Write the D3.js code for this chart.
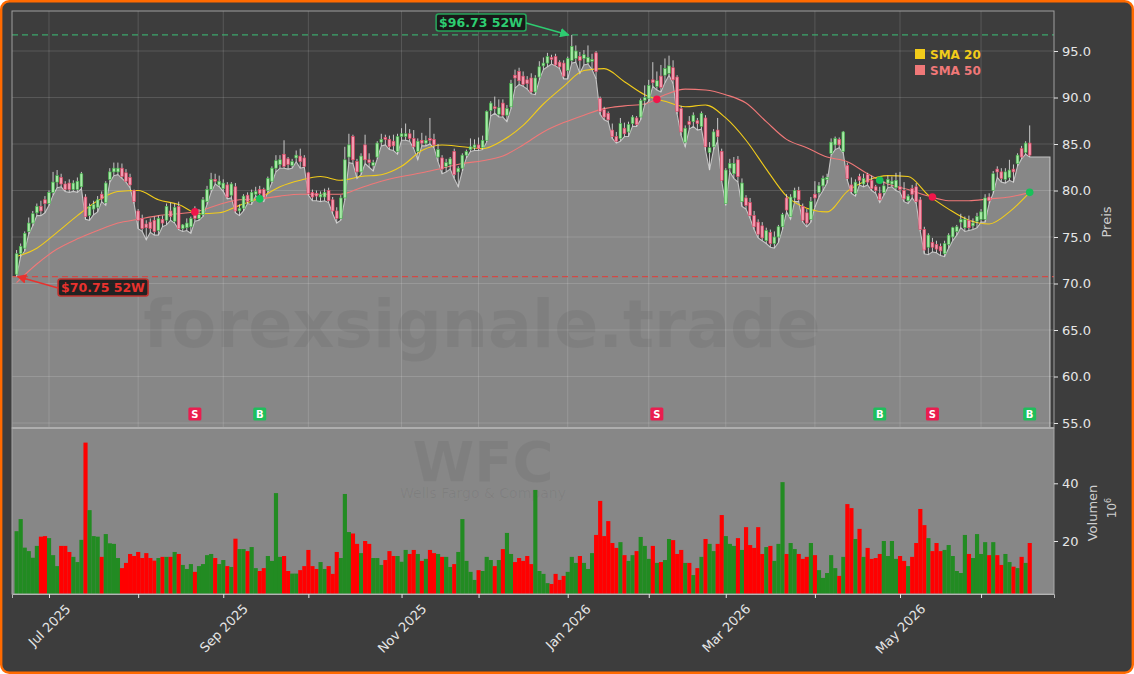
<!DOCTYPE html>
<html>
<head>
<meta charset="utf-8">
<script src="https://cdn.jsdelivr.net/npm/d3@7"></script>
<style>
  body { margin: 0; background: #fff; }
  svg { display: block; }
  text { font-family: "DejaVu Sans", sans-serif; }
</style>
</head>
<body>
<svg id="chart" width="1134" height="674"></svg>
<script>
// Daily WFC candles, index 0 = first trading day shown (Jun 18 2025)
var opens = [71.0,73.2,73.8,75.6,76.5,77.6,78.3,79.0,78.6,79.8,80.9,81.4,80.7,80.8,80.1,80.1,80.4,79.3,77.3,78.0,
  78.2,79.6,78.7,81.2,82.0,82.0,82.4,81.9,81.4,80.0,77.8,77.0,76.4,76.6,76.8,75.7,76.9,76.8,77.8,76.7,
  78.3,75.9,76.0,76.1,77.8,77.0,77.4,78.8,80.1,81.2,80.6,80.2,80.6,79.5,80.4,77.8,78.1,79.5,78.8,79.6,
  80.1,80.1,80.0,81.0,82.4,82.8,83.9,83.4,82.7,83.5,83.7,83.5,81.9,79.8,79.7,79.3,79.3,80.0,79.0,77.8,
  77.0,79.2,83.6,85.8,83.1,82.0,84.9,83.3,82.7,83.6,85.2,85.7,85.5,85.3,84.2,85.8,85.8,86.1,85.6,84.2,
  85.4,85.1,85.6,85.5,83.6,83.5,82.6,82.8,84.2,82.0,82.4,83.8,84.4,84.6,84.9,84.6,85.4,88.6,89.0,88.2,
  89.4,88.1,89.0,92.4,92.8,92.3,91.9,92.1,90.6,92.2,93.4,93.7,94.3,94.4,93.8,93.7,92.9,94.0,94.2,94.4,
  94.2,93.8,93.9,94.8,89.9,88.7,88.3,86.5,85.8,85.6,86.7,86.3,87.2,87.8,87.9,89.7,89.9,91.9,91.2,92.3,
  92.4,92.6,93.2,92.2,88.8,85.2,87.4,87.4,87.5,86.9,87.8,84.1,84.7,86.5,84.2,78.6,82.4,81.8,83.3,78.8,
  79.2,78.7,77.3,76.6,76.2,74.6,75.5,74.3,75.0,76.1,79.2,77.2,79.2,80.0,78.3,77.6,76.9,79.6,79.8,80.5,
  81.2,84.0,84.9,85.5,84.2,82.7,80.6,79.7,81.5,80.7,81.7,81.1,80.4,79.7,79.8,80.8,80.7,80.3,80.4,80.0,
  78.9,80.2,80.4,79.0,75.8,73.9,74.4,74.2,74.0,73.2,74.2,75.0,75.6,76.6,76.0,76.8,76.2,76.7,76.9,76.9,
  79.3,80.0,82.3,82.0,81.2,81.4,82.3,82.9,84.5,84.1,85.1];
var highs = [73.6,74.3,75.6,77.1,77.8,78.6,78.9,79.4,80.0,82.0,82.2,81.8,81.0,81.2,81.1,81.4,82.0,79.6,78.6,78.9,
  79.4,79.9,81.0,82.4,83.0,83.0,82.9,82.3,81.8,80.1,78.0,77.4,76.8,77.0,77.2,77.3,77.3,78.6,78.7,78.6,
  78.8,76.4,77.0,77.2,78.3,78.0,79.3,80.5,81.9,81.8,81.6,81.2,80.9,80.9,80.8,78.5,79.6,79.8,80.1,80.4,
  80.5,80.3,81.5,82.6,83.8,83.8,85.4,83.6,83.4,84.3,84.5,83.8,82.0,80.1,80.0,79.9,80.2,80.3,79.3,78.2,
  79.5,84.7,86.1,86.0,83.4,84.0,86.0,84.0,83.3,85.3,86.1,86.0,85.9,86.0,86.1,86.7,87.2,86.6,86.5,85.6,
  86.2,85.9,87.8,86.1,85.0,83.8,83.4,83.6,84.5,82.6,84.0,84.4,85.6,85.5,85.7,85.9,88.6,89.6,90.1,89.8,
  89.8,89.2,91.9,93.0,93.2,92.8,92.3,92.6,92.4,93.9,94.3,94.8,94.6,94.7,94.0,94.0,94.4,96.73,95.6,94.9,
  95.1,95.6,94.7,95.0,90.1,89.0,88.5,87.2,86.3,87.8,87.3,87.4,88.1,88.0,89.9,91.3,91.9,93.8,92.8,93.5,
  94.2,94.5,94.0,92.4,89.1,87.0,88.0,88.4,87.8,88.5,88.1,85.2,86.6,87.8,84.5,82.4,83.4,83.6,83.7,81.3,
  79.5,79.2,77.8,76.9,76.6,76.0,75.8,75.6,76.3,77.6,79.6,79.6,80.3,80.4,78.6,78.0,79.3,81.0,80.9,81.6,
  81.8,85.6,85.8,85.7,86.4,83.0,81.4,81.2,81.8,81.8,81.9,81.6,80.6,80.4,81.0,81.6,81.5,81.9,82.0,80.9,
  79.6,80.6,80.8,79.3,76.1,75.4,74.9,74.6,74.3,74.6,75.4,76.1,76.3,77.5,77.2,77.3,77.0,77.6,78.0,79.6,
  79.7,82.1,82.6,82.4,82.4,83.3,82.8,84.0,84.8,85.3,87.0];
var lows = [70.75,72.9,73.5,75.3,76.2,77.3,77.3,77.6,78.4,79.5,80.3,80.4,79.9,79.8,79.9,79.8,80.2,76.9,76.8,77.4,
  77.7,78.8,78.4,80.9,81.6,81.7,81.3,80.9,80.3,78.6,75.9,75.6,74.7,75.5,75.2,75.2,76.1,76.3,76.8,76.5,
  75.8,75.6,75.7,75.4,76.7,76.8,77.2,78.5,79.8,80.7,80.4,79.9,79.1,79.2,77.6,77.3,77.8,78.6,78.5,79.4,
  79.2,78.8,79.8,80.8,82.0,82.4,82.4,82.3,82.4,83.1,82.4,82.5,79.5,78.9,78.9,78.8,78.9,78.7,77.5,76.5,
  76.8,79.0,83.0,82.9,81.3,81.7,82.9,82.5,82.1,83.4,84.8,84.9,84.4,84.3,83.9,85.4,85.4,85.3,84.5,83.3,
  84.8,84.8,85.0,84.6,83.1,81.8,82.0,82.3,81.3,80.4,82.1,83.5,84.2,84.3,84.3,84.4,85.2,88.0,88.3,87.9,
  87.9,87.4,88.8,91.0,91.4,91.2,90.9,90.4,90.3,91.9,93.0,93.3,93.6,93.4,93.1,92.0,92.0,93.7,93.8,92.6,
  93.5,93.6,93.0,92.0,88.2,87.6,87.4,85.6,85.1,85.3,85.8,85.8,86.9,86.9,87.6,89.2,89.6,91.2,90.8,90.6,
  91.6,92.4,91.5,88.2,85.9,84.7,86.6,86.9,86.5,86.6,84.3,82.2,84.4,85.3,81.0,78.4,82.0,81.3,80.9,78.3,
  78.0,77.0,75.8,74.9,74.6,74.3,73.9,73.8,74.4,75.8,77.7,76.9,78.8,78.8,76.6,76.1,76.6,78.2,79.3,80.0,
  80.8,83.8,84.4,84.6,84.0,81.1,79.7,79.4,80.6,80.4,80.6,80.0,79.7,78.7,79.5,80.3,80.4,80.0,79.8,78.8,
  78.6,79.2,78.6,75.6,73.2,73.1,73.4,73.3,73.0,72.9,73.8,74.6,75.2,76.0,75.6,75.7,75.8,76.0,76.6,76.6,
  78.6,79.7,81.4,80.9,80.8,81.1,80.9,82.6,83.4,83.9,83.6];
var closes = [73.2,74.0,75.4,76.5,77.5,78.3,77.8,78.6,79.8,80.9,81.6,80.7,80.1,80.1,80.8,81.0,81.8,77.2,78.3,78.5,
  79.0,79.1,80.8,82.0,82.4,82.4,81.5,81.0,80.6,78.8,76.8,75.9,76.0,75.9,75.6,77.0,76.5,78.3,77.2,78.2,
  75.9,76.3,76.5,77.0,77.0,77.4,79.0,80.1,81.2,81.0,81.0,80.8,79.3,80.7,77.8,78.1,79.4,78.8,79.8,79.9,
  79.7,79.2,81.3,82.4,83.2,83.3,82.6,82.8,83.1,83.8,83.1,82.6,79.7,79.3,79.4,79.6,79.8,78.9,77.8,77.0,
  79.2,83.3,84.9,83.3,82.0,83.7,83.3,83.0,83.0,85.1,85.5,85.5,84.7,84.8,85.8,86.1,86.1,85.6,84.7,85.3,
  85.1,85.4,85.4,84.9,84.4,82.3,83.0,83.4,81.7,82.4,83.8,84.2,84.7,84.9,84.5,85.4,88.5,89.4,88.8,88.9,
  88.1,88.8,91.5,92.1,91.8,91.4,91.5,90.6,92.1,93.3,93.7,94.4,94.1,93.5,93.3,92.3,94.2,95.5,95.0,94.0,
  94.6,94.3,94.1,92.8,88.5,87.9,87.6,85.8,85.3,87.2,86.1,87.1,87.9,87.1,89.7,90.0,91.3,91.6,91.8,91.1,
  93.1,93.4,91.9,88.5,86.3,86.7,87.1,88.1,87.2,88.3,84.7,84.6,86.3,85.8,81.1,82.2,82.9,82.9,81.5,80.8,
  78.4,77.3,76.1,75.3,74.9,75.7,74.3,75.0,76.1,77.4,77.9,79.3,80.0,79.0,76.8,76.5,78.8,79.2,80.5,81.3,
  81.4,85.2,85.6,84.9,86.3,81.3,79.9,80.9,81.1,81.3,80.9,80.2,80.0,79.0,80.5,81.2,81.0,81.1,80.1,79.1,
  79.4,79.6,78.8,75.8,73.6,75.2,73.9,73.7,73.5,74.3,75.2,76.0,76.1,76.9,76.9,76.0,76.5,77.2,77.7,79.2,
  78.9,81.8,82.0,81.3,82.0,82.2,82.0,83.8,83.6,85.1,83.8];
// Volume in millions
var volume = [23.4,27.6,17.7,16.5,14.2,18.3,21.5,21.7,21.0,15.1,11.3,18.3,18.3,16.2,14.5,12.7,20.4,54.1,30.7,21.7,
  21.5,14.5,22.4,19.2,19.0,14.1,10.6,12.4,15.5,14.8,16.2,14.1,15.8,14.1,13.2,14.1,14.5,14.5,14.5,16.2,
  15.5,11.7,10.3,12.0,9.3,11.3,12.0,15.1,15.5,14.1,12.0,13.4,11.3,11.0,20.8,17.2,17.2,16.5,17.9,10.6,
  9.6,10.6,14.8,13.1,36.6,14.5,14.8,9.6,8.7,8.7,9.9,11.3,16.9,11.3,10.3,12.7,10.3,11.3,8.6,16.2,
  14.1,36.3,23.1,22.6,19.0,15.8,20.0,19.0,14.1,14.1,11.7,13.4,16.5,14.8,14.8,12.8,16.9,15.5,16.9,15.5,
  13.1,13.8,16.9,15.8,15.5,14.5,14.5,11.0,12.0,16.2,27.6,13.1,9.3,6.5,9.9,9.6,14.5,13.4,11.3,13.4,
  17.2,22.8,15.5,12.7,14.1,13.1,14.8,12.0,37.7,9.6,8.6,5.4,5.1,8.6,6.5,7.9,9.3,14.5,12.4,14.8,
  12.4,10.3,15.8,22.1,33.9,21.7,26.9,19.3,17.6,19.6,15.1,13.1,15.1,16.5,21.4,18.3,13.8,18.3,12.4,12.7,
  13.4,20.7,20.3,15.5,16.9,12.4,12.4,8.2,10.6,14.5,20.7,19.0,16.5,19.0,29.0,21.7,19.0,18.3,21.0,16.9,
  24.8,18.6,17.6,24.8,15.5,17.9,18.3,13.1,19.0,40.4,15.5,19.3,17.2,15.5,13.8,14.5,19.3,15.1,9.9,7.2,
  8.9,15.1,10.6,7.9,14.5,32.8,31.4,20.7,24.2,14.5,17.6,13.8,14.1,15.5,20.0,14.8,20.0,13.8,14.8,13.1,
  11.3,14.5,19.3,31.1,25.5,21.0,16.5,19.3,16.5,16.9,18.6,14.8,9.6,8.9,22.1,15.5,14.1,22.4,15.5,19.6,
  15.1,19.6,15.1,11.7,15.5,12.7,11.1,10.6,14.5,12.4,19.3];
// Moving averages sampled every 5 trading days (index 0, 5, ... 250)
var sma20 = [72.9,73.8,75.5,77.3,78.9,79.9,80.0,79.0,78.5,77.5,77.6,78.4,79.2,80.4,81.1,81.5,81.1,81.5,81.7,82.6,
  84.3,84.9,84.7,84.5,85.4,87.0,89.3,91.2,92.9,93.1,91.7,90.3,89.6,89.0,89.2,87.8,85.4,82.3,79.4,78.1,
  77.7,79.9,81.1,81.6,81.5,79.5,78.0,76.8,76.4,77.7,79.8];
var sma50 = [70.1,72.1,73.7,74.8,75.7,76.5,76.9,77.3,77.5,77.8,78.5,79.0,79.1,79.4,79.6,79.6,79.6,80.3,81.0,81.5,
  81.9,82.4,82.9,83.2,83.7,84.9,86.3,87.3,88.1,88.8,89.1,89.3,90.3,90.9,90.8,90.3,89.4,87.4,85.5,84.6,
  83.6,83.1,81.8,80.7,80.1,79.4,78.9,78.9,79.1,79.3,79.8];
var smaStep = 5;
// SMA crossings
var sigIdx = [44, 60, 158, 213, 226, 250];
var sigType = ["S", "B", "S", "B", "S", "B"];
var sigPrice = [77.7, 79.1, 89.8, 81.1, 79.3, 79.8];
// 52 week extremes
var hi52 = 96.73, hi52Idx = 137;
var lo52 = 70.75, lo52Idx = 0;
// month starts (trading day index) and labels
var monthIdx = [8, 30, 51, 72, 95, 114, 136, 156, 175, 197, 218, 238];
var monthLabel = ["Jul 2025", "", "Sep 2025", "", "Nov 2025", "", "Jan 2026", "", "Mar 2026", "", "May 2026", ""];
var priceTicks = [55, 60, 65, 70, 75, 80, 85, 90, 95];
var volTicks = [20, 40];

var svg = d3.select("#chart");
var W = 1134, H = 674;
var pLeft = 12, pRight = 1054, pTop = 11, pMid = 428, pBottom = 594;

var x = d3.scaleLinear().domain([-1.13, 256]).range([pLeft, pRight]);
var y = d3.scaleLinear().domain([55, 95]).range([423, 51]);
var yv = d3.scaleLinear().domain([0, 40]).range([598.7, 483.3]);
var step = x(1) - x(0);

var bg = "#3d3d3d", panelGray = "#878787", txt = "#e6e6e6";
var upCol = "#228b22", downCol = "#ff0000";

// background with orange frame
svg.append("rect").attr("x", 1.2).attr("y", 1.2).attr("width", W - 2.4).attr("height", H - 2.4)
  .attr("rx", 8).attr("fill", bg).attr("stroke", "#ff6a00").attr("stroke-width", 2.4);

var defs = svg.append("defs");
defs.append("clipPath").attr("id", "clipP").append("rect")
  .attr("x", pLeft).attr("y", pTop).attr("width", pRight - pLeft).attr("height", pMid - pTop);
defs.append("clipPath").attr("id", "clipV").append("rect")
  .attr("x", pLeft).attr("y", pMid).attr("width", pRight - pLeft).attr("height", pBottom - pMid);
["g", "r"].forEach(function(k) {
  defs.append("marker").attr("id", "arr" + k).attr("viewBox", "0 0 10 10")
    .attr("refX", 9).attr("refY", 5).attr("markerWidth", 6).attr("markerHeight", 6)
    .attr("orient", "auto").append("path").attr("d", "M0,0L10,5L0,10z")
    .attr("fill", k == "g" ? "#2ecc71" : "#e8322e");
});

// ---------- price panel ----------
var gp = svg.append("g").attr("clip-path", "url(#clipP)");

// area under the lows, carried on flat to the right
var areaPts = [[-1.13, lows[0]]];
lows.forEach(function(v, i) { areaPts.push([i, v]); });
areaPts.push([255, lows[lows.length - 1]]);
gp.append("path").datum(areaPts)
  .attr("d", d3.area().x(function(d) { return x(d[0]); }).y0(pMid).y1(function(d) { return y(d[1]); }))
  .attr("fill", panelGray);
var edge = areaPts.concat([[255, 50]]);
gp.append("path").datum(edge)
  .attr("d", d3.line().x(function(d) { return x(d[0]); }).y(function(d) { return y(d[1]); }))
  .attr("fill", "none").attr("stroke", "#c4c4c4").attr("stroke-width", 1.1);

// grid
gp.selectAll(".hg").data(priceTicks).enter().append("line")
  .attr("x1", pLeft).attr("x2", pRight).attr("y1", y).attr("y2", y)
  .attr("stroke", "#fff").attr("stroke-opacity", 0.16).attr("stroke-width", 0.9);
gp.selectAll(".vg").data(monthIdx).enter().append("line")
  .attr("x1", x).attr("x2", x).attr("y1", pTop).attr("y2", pMid)
  .attr("stroke", "#fff").attr("stroke-opacity", 0.16).attr("stroke-width", 0.9);

// watermark
gp.append("text").attr("x", 482).attr("y", 347).attr("text-anchor", "middle")
  .attr("font-size", 65).attr("font-weight", "bold").attr("fill", "#000").attr("fill-opacity", 0.055)
  .text("forexsignale.trade");

// 52W lines
gp.append("line").attr("x1", pLeft).attr("x2", pRight).attr("y1", y(hi52)).attr("y2", y(hi52))
  .attr("stroke", "#3cb371").attr("stroke-width", 1.3).attr("stroke-dasharray", "6,4").attr("stroke-opacity", 0.9);
gp.append("line").attr("x1", pLeft).attr("x2", pRight).attr("y1", y(lo52)).attr("y2", y(lo52))
  .attr("stroke", "#d9443f").attr("stroke-width", 1.3).attr("stroke-dasharray", "6,4").attr("stroke-opacity", 0.9);

// moving averages
var smaLine = d3.line().curve(d3.curveMonotoneX)
  .x(function(d, i) { return x(i * smaStep); }).y(function(d) { return y(d); });
gp.append("path").datum(sma50).attr("d", smaLine).attr("fill", "none")
  .attr("stroke", "#f07878").attr("stroke-width", 1.1);
gp.append("path").datum(sma20).attr("d", smaLine).attr("fill", "none")
  .attr("stroke", "#f2cc1a").attr("stroke-width", 1.1);

// candles
var candles = gp.append("g").selectAll("g").data(closes).enter().append("g");
candles.append("line")
  .attr("x1", function(d, i) { return x(i); }).attr("x2", function(d, i) { return x(i); })
  .attr("y1", function(d, i) { return y(highs[i]); }).attr("y2", function(d, i) { return y(lows[i]); })
  .attr("stroke", "#d8d8d8").attr("stroke-width", 0.9);
candles.append("rect")
  .attr("x", function(d, i) { return x(i) - 1.4; }).attr("width", 2.8)
  .attr("y", function(d, i) { return y(Math.max(opens[i], d)); })
  .attr("height", function(d, i) { return Math.max(0.8, Math.abs(y(opens[i]) - y(d))); })
  .attr("fill", function(d, i) { return d >= opens[i] ? "#a6e8a6" : "#f29ab0"; })
  .attr("stroke", function(d, i) { return d >= opens[i] ? "#3cb043" : "#e0405e"; })
  .attr("stroke-width", 0.6);

// crossing dots and signal markers
sigIdx.forEach(function(s, k) {
  gp.append("circle").attr("cx", x(s)).attr("cy", y(sigPrice[k])).attr("r", 3.8)
    .attr("fill", sigType[k] == "B" ? "#19c05a" : "#f0164a");
  var m = gp.append("g").attr("transform", "translate(" + x(s) + ",414)");
  m.append("rect").attr("x", -6.5).attr("y", -6.5).attr("width", 13).attr("height", 13).attr("rx", 1.5)
    .attr("fill", sigType[k] == "B" ? "#1fbf5c" : "#ea1d4f");
  m.append("text").attr("y", 3.8).attr("text-anchor", "middle").attr("font-size", 10)
    .attr("font-weight", "bold").attr("fill", "#fff").text(sigType[k]);
});

// panel frame
svg.append("rect").attr("x", pLeft).attr("y", pTop).attr("width", pRight - pLeft).attr("height", pMid - pTop)
  .attr("fill", "none").attr("stroke", "#a0a0a0").attr("stroke-width", 1);

// 52W annotations
function note(label, bx, by, col, border, tx, ty, mk) {
  var g = svg.append("g");
  var t = g.append("text").attr("x", bx).attr("y", by).attr("text-anchor", "middle")
    .attr("font-size", 12.5).attr("font-weight", "bold").attr("fill", col).text(label);
  var bb = t.node().getBBox();
  g.insert("rect", "text").attr("x", bb.x - 3).attr("y", bb.y - 1).attr("width", bb.width + 6)
    .attr("height", bb.height + 2).attr("rx", 2.5).attr("fill", "#141414").attr("fill-opacity", 0.88)
    .attr("stroke", border).attr("stroke-width", 1.6);
  var sx = tx > bx ? bb.x + bb.width + 3 : bb.x - 3;
  svg.append("line").attr("x1", sx).attr("y1", by - 4).attr("x2", tx).attr("y2", ty)
    .attr("stroke", col).attr("stroke-width", 1.6).attr("marker-end", "url(#arr" + mk + ")");
}
note("$96.73 52W", 481, 27, "#2ecc71", "#27a35a", x(hi52Idx) - 3, y(hi52), "g");
note("$70.75 52W", 103, 292, "#e8322e", "#c0302c", x(lo52Idx) + 1, y(lo52), "r");

// legend
var leg = svg.append("g").attr("transform", "translate(915,49)");
[["SMA 20", "#f2cc1a"], ["SMA 50", "#f07878"]].forEach(function(d, k) {
  leg.append("rect").attr("x", 0).attr("y", k * 16).attr("width", 10).attr("height", 10).attr("fill", d[1]);
  leg.append("text").attr("x", 15).attr("y", k * 16 + 9.5).attr("font-size", 12).attr("font-weight", "bold")
    .attr("fill", d[1]).text(d[0]);
});

// price axis
var ay = svg.append("g").attr("transform", "translate(" + pRight + ",0)")
  .call(d3.axisRight(y).tickValues(priceTicks).tickFormat(d3.format(".1f")).tickSize(4).tickPadding(4));
ay.select(".domain").remove();
ay.selectAll("line").attr("stroke", txt);
ay.selectAll("text").attr("fill", txt).attr("font-size", 13).attr("font-family", "DejaVu Sans");
svg.append("text").attr("transform", "translate(1111,222) rotate(-90)").attr("text-anchor", "middle")
  .attr("font-size", 13).attr("fill", "#cfcfcf").text("Preis");

// ---------- volume panel ----------
svg.append("rect").attr("x", pLeft).attr("y", pMid).attr("width", pRight - pLeft).attr("height", pBottom - pMid)
  .attr("fill", panelGray);
var gv = svg.append("g").attr("clip-path", "url(#clipV)");
gv.append("text").attr("x", 483).attr("y", 481).attr("text-anchor", "middle").attr("font-size", 56)
  .attr("font-weight", "bold").attr("fill", "#000").attr("fill-opacity", 0.055).text("WFC");
gv.append("text").attr("x", 483).attr("y", 498).attr("text-anchor", "middle").attr("font-size", 14)
  .attr("fill", "#000").attr("fill-opacity", 0.06).text("Wells Fargo & Company");
gv.selectAll(".vb").data(volume).enter().append("rect")
  .attr("x", function(d, i) { return x(i) - step / 2; }).attr("width", step + 0.1)
  .attr("y", function(d) { return yv(d); }).attr("height", function(d) { return yv(0) - yv(d); })
  .attr("fill", function(d, i) { return closes[i] >= opens[i] ? upCol : downCol; });
svg.append("line").attr("x1", pLeft).attr("x2", pRight).attr("y1", pMid).attr("y2", pMid)
  .attr("stroke", "#b4b4b4").attr("stroke-width", 2);
svg.append("rect").attr("x", pLeft).attr("y", pMid).attr("width", pRight - pLeft).attr("height", pBottom - pMid)
  .attr("fill", "none").attr("stroke", "#a8a8a8").attr("stroke-width", 1);

var av = svg.append("g").attr("transform", "translate(" + pRight + ",0)")
  .call(d3.axisRight(yv).tickValues(volTicks).tickSize(4).tickPadding(4));
av.select(".domain").remove();
av.selectAll("line").attr("stroke", txt);
av.selectAll("text").attr("fill", txt).attr("font-size", 13).attr("font-family", "DejaVu Sans");
svg.append("text").attr("transform", "translate(1097,513) rotate(-90)").attr("text-anchor", "middle")
  .attr("font-size", 13).attr("fill", "#cfcfcf").text("Volumen");
var ex = svg.append("text").attr("transform", "translate(1116,508) rotate(-90)").attr("text-anchor", "middle")
  .attr("font-size", 12).attr("fill", "#cfcfcf");
ex.append("tspan").text("10");
ex.append("tspan").attr("dy", -5).attr("font-size", 8).text("6");

// x axis
var ax = svg.append("g").attr("transform", "translate(0," + pBottom + ")")
  .call(d3.axisBottom(x).tickValues(monthIdx).tickFormat(function(d, i) { return monthLabel[i]; }).tickSize(4));
ax.select(".domain").attr("stroke", "#b4b4b4");
ax.selectAll("line").attr("stroke", txt);
ax.selectAll("text").each(function() {
  var t = d3.select(this).attr("fill", txt).attr("font-size", 13).attr("font-family", "DejaVu Sans")
    .attr("y", 0).attr("dy", "0.35em").attr("text-anchor", "middle");
  var bb = this.getBBox();
  var hb = (bb.width + bb.height) / Math.SQRT2;
  t.attr("transform", "translate(0," + (7 + hb / 2) + ") rotate(-45)");
});
</script>
</body>
</html>
